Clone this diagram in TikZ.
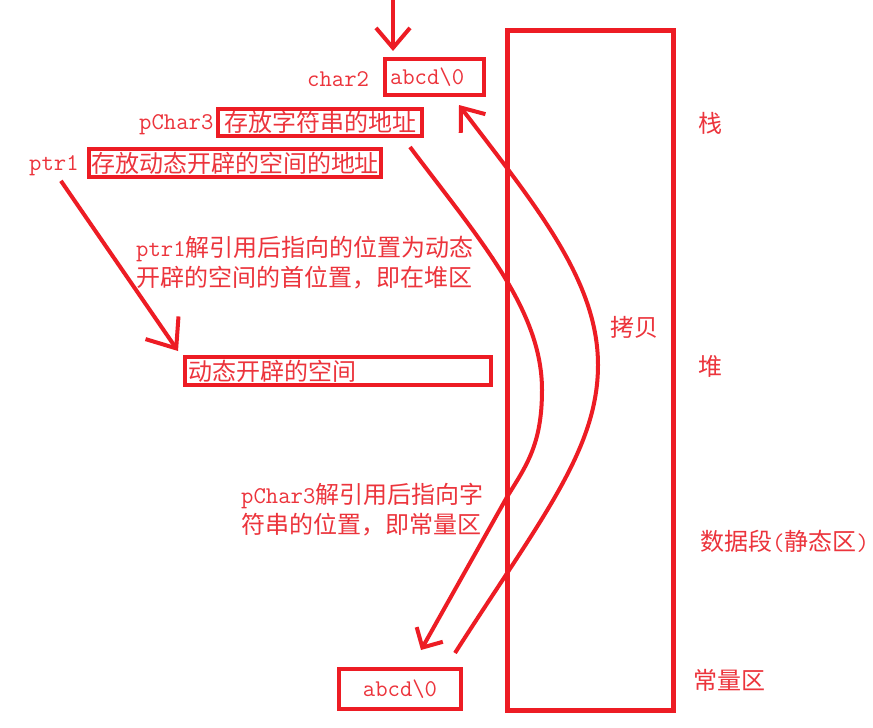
\documentclass[tikz,border=0pt]{standalone}
\usepackage{fontspec}
\newfontfamily\cjk{Noto Sans CJK SC}
\usetikzlibrary{arrows.meta}
\definecolor{pr}{RGB}{237,28,36}
\definecolor{pt}{RGB}{236,52,60}
\newcommand\lt[1]{{\ttfamily #1}}
\begin{document}
\begin{tikzpicture}[x=1pt,y=-1pt,
  every node/.style={text=pt, font=\cjk\fontsize{24}{30}\selectfont},
  lab/.style={inner sep=0pt, anchor=west},
  box/.style={draw=pr, line width=4pt, inner sep=0pt},
  con/.style={draw=pr, line width=4pt},
]
\useasboundingbox (0,0) rectangle (873,728);
\fill[white] (0,0) rectangle (873,728);

% memory column
\node[draw=pr, line width=5pt, minimum width=166pt, minimum height=680pt, inner sep=0pt] (mem) at (590.5,370.5) {};

% boxes
\node[box, minimum height=36pt, text width=89pt, inner xsep=5pt, align=left] (c2) at (434.5,77) {\lt{abcd\textbackslash 0}};
\node[box, minimum width=204pt, minimum height=27pt] (pc3) at (320,122.5) {存放字符串的地址};
\node[box, minimum width=292pt, minimum height=28pt] (p1) at (235,163) {存放动态开辟的空间的地址};
\node[box, minimum height=28pt, text width=300pt, inner xsep=3pt, align=left] (dyn) at (338,371) {动态开辟的空间};
\node[box, minimum width=122pt, minimum height=40pt] (bot) at (400,689) {\lt{abcd\textbackslash 0}};

% labels
\node[lab] (c2lab) at (307,79) {\lt{char2}};
\node[lab] (pc3lab) at (139,124.5) {\lt{pChar3}};
\node[lab] (p1lab) at (29,165.5) {\lt{ptr1}};
\node[lab, align=left] (note1) at (136,263) {\lt{ptr1}解引用后指向的位置为动态\\开辟的空间的首位置，即在堆区};
\node[lab, align=left] (note2) at (241,510) {\lt{pChar3}解引用后指向字\\符串的位置，即常量区};
\node[lab] (zhan) at (698,123) {栈};
\node[lab] (dui) at (698,366) {堆};
\node[lab] (sjd) at (700,541) {数据段\lt{(}静态区\lt{)}};
\node[lab] (clq) at (693,680) {常量区};
\node[lab] (kb) at (610,327) {拷贝};

% connectors
\coordinate (topin) at (393,0);
\draw[con, shorten >=6pt, -{Straight Barb[length=20pt,width=34pt]}] (topin) -- (topin |- c2.north);
\draw[con, -{Straight Barb[length=25pt,width=40pt]}] ([shift={(7,5)}]p1lab.south) -- ([shift={(-5,-4)}]dyn.north west);
\draw[con, -{Straight Barb[length=15pt,width=30pt]}] ([shift={(90,9)}]pc3.south) .. controls (480,240) and (542,310) .. (542,390) .. controls (542,445) and (526,466) .. (507,497) -- ([shift={(21,-17)}]bot.north);
\draw[con, -{Straight Barb[length=20pt,width=31pt]}] ([shift={(55,-14)}]bot.north) .. controls (540,520) and (598,450) .. (598,365) .. controls (598,280) and (535,205) .. ([shift={(24.5,8)}]c2.south);
\end{tikzpicture}
\end{document}
